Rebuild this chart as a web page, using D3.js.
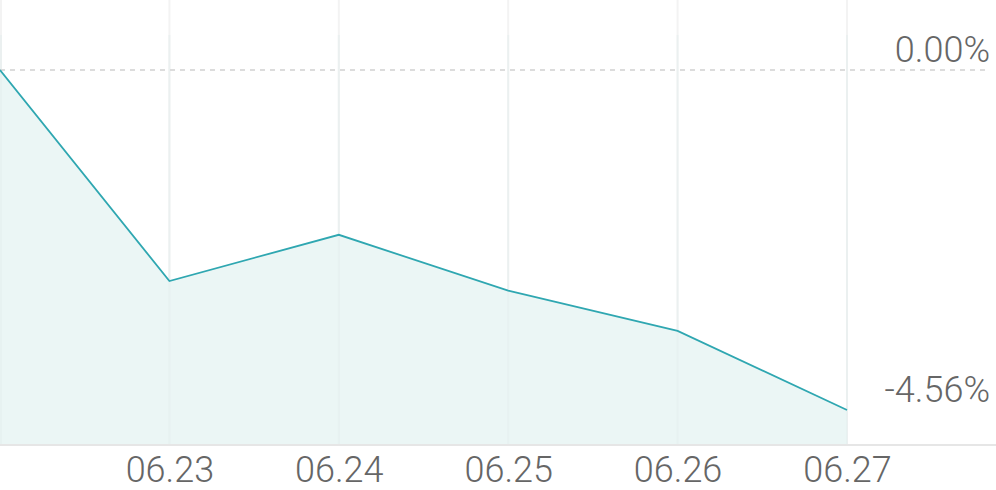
<!DOCTYPE html>
<html><head><meta charset="utf-8">
<script src="https://cdn.jsdelivr.net/npm/d3@7"></script>
<style>html,body{margin:0;padding:0;background:#fff;}svg{display:block;}</style>
</head><body>
<script>
const dates = ["06.22","06.23","06.24","06.25","06.26","06.27"];
const values = [0, -2.83, -2.21, -2.96, -3.50, -4.56];
const xTickLabels = ["06.23","06.24","06.25","06.26","06.27"];
const yTickValues = [0, -4.56];

const W = 996, H = 490;
const svg = d3.select("body").append("svg").attr("width", W).attr("height", H);
const x = d3.scalePoint().domain(dates).range([0, 847]);
const y = d3.scaleLinear().domain([-4.56, 0]).range([410, 70]);
const bottom = 444;

// vertical grid lines
const gx = ["06.22"].concat(xTickLabels);
svg.append("g").selectAll("line").data(gx).join("line")
  .attr("x1", d => x(d) + (d === "06.22" ? 1 : 0)).attr("x2", d => x(d) + (d === "06.22" ? 1 : 0))
  .attr("y1", 0).attr("y2", bottom)
  .attr("stroke", "#f3f3f3").attr("stroke-width", 2);

// area
svg.append("path").datum(values)
  .attr("d", d3.area().x((d,i) => x(dates[i])).y0(bottom).y1(d => y(d)))
  .attr("fill", "#ebf6f5");

// grid lines over area (subtle)
svg.append("g").selectAll("line").data(gx).join("line")
  .attr("x1", d => x(d) + (d === "06.22" ? 1 : 0)).attr("x2", d => x(d) + (d === "06.22" ? 1 : 0))
  .attr("y1", 35).attr("y2", bottom)
  .attr("stroke", "#e4eeed").attr("stroke-opacity", 0.5).attr("stroke-width", 2);

// zero dashed line
svg.append("line").attr("x1", 0).attr("x2", 990).attr("y1", y(0)).attr("y2", y(0))
  .attr("stroke", "#dcdcdc").attr("stroke-width", 2).attr("stroke-dasharray", "5,5");

// line
svg.append("path").datum(values)
  .attr("d", d3.line().x((d,i) => x(dates[i])).y(d => y(d)))
  .attr("fill", "none").attr("stroke", "#2fa7b1").attr("stroke-width", 1.8);

// bottom axis
const xAxis = d3.axisBottom(x).tickValues(xTickLabels).tickSize(0).tickPadding(0);
const ax = svg.append("g").attr("transform", `translate(0,${bottom})`).call(xAxis);
ax.select(".domain").remove();
ax.append("line").attr("x1", 0).attr("x2", W).attr("y1", 1).attr("y2", 1)
  .attr("stroke", "#e6e6e6").attr("stroke-width", 2);
ax.selectAll("text").attr("dy", null).attr("y", 38)
  .attr("font-family", "Roboto").attr("font-weight", 300).attr("font-size", 36).attr("fill", "#666");

// y labels
const yAxis = d3.axisLeft(y).tickValues(yTickValues).tickSize(0).tickPadding(0)
  .tickFormat(d => d.toFixed(2) + "%");
const ay = svg.append("g").attr("transform", `translate(990,0)`).call(yAxis);
ay.select(".domain").remove();
ay.selectAll("text").attr("dy", null).attr("y", -9).attr("text-anchor", "end")
  .attr("font-family", "Roboto").attr("font-weight", 300).attr("font-size", 36).attr("fill", "#666");
</script>
</body></html>
